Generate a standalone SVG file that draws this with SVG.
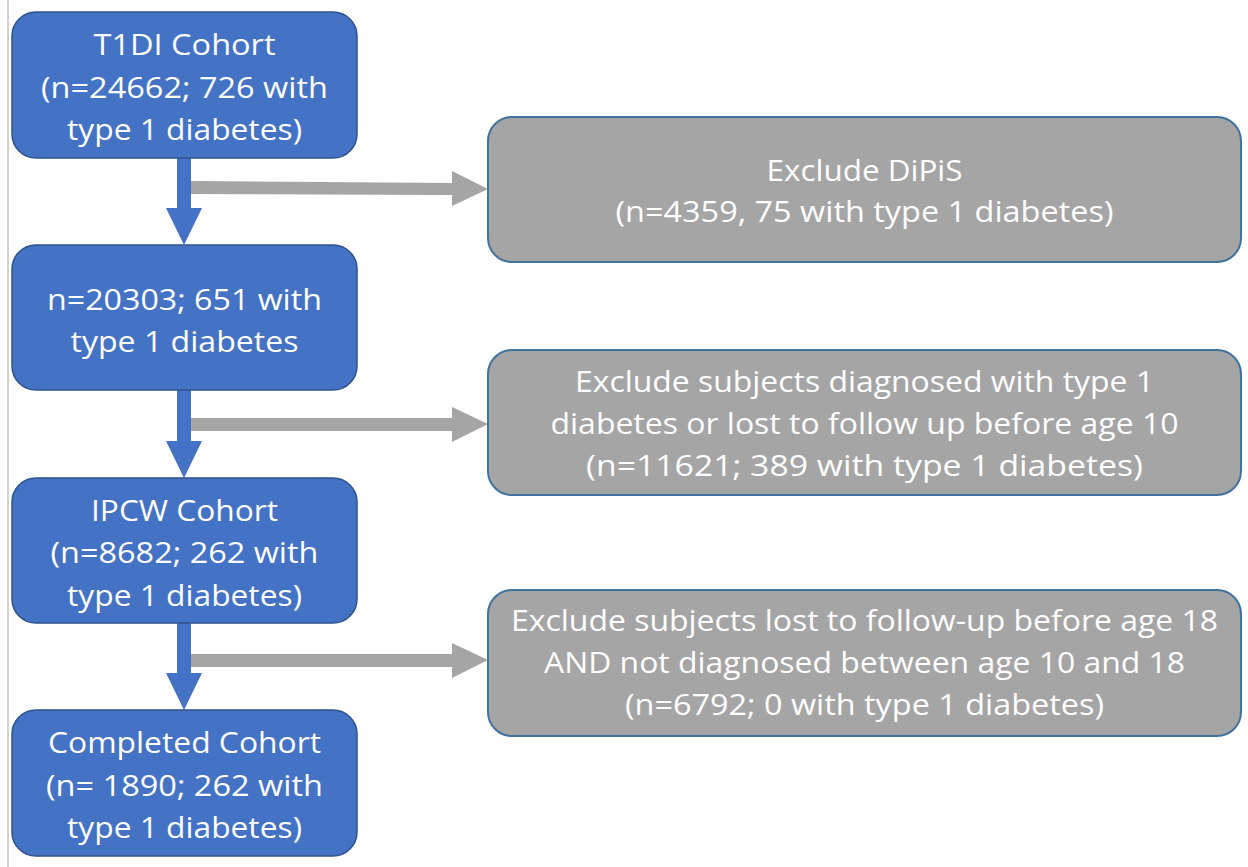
<svg xmlns="http://www.w3.org/2000/svg" width="1248" height="867" viewBox="0 0 1248 867">
<style>
.blue{fill:#4472C4;stroke:#2F528F;stroke-width:1.5}
.gray{fill:#A5A5A5;stroke:#41719C;stroke-width:2}
.t{font-family:"Open Sans","Liberation Sans",sans-serif;font-size:30px;fill:#FFFFFF;text-anchor:middle}
.ba{fill:#4472C4}
.ga{fill:#A5A5A5}
</style>
<rect width="1248" height="867" fill="#FFFFFF"/>
<line x1="8" y1="0" x2="8" y2="867" stroke="#D0D0D0" stroke-width="2"/>
<g id="connectors">
<polygon class="ga" points="191,181 452,183 452,171 488,189 452,206 452,195 191,194"/>
<polygon class="ga" points="191,418 452,418 452,407 488,424 452,442 452,431 191,431"/>
<polygon class="ga" points="191,654 452,654 452,643 488,660 452,678 452,667 191,667"/>
<polygon class="ba" points="177,158 191,158 191,208 202,208 184,245 166,208 177,208"/>
<polygon class="ba" points="177,390 191,390 191,441 202,441 184,478 166,441 177,441"/>
<polygon class="ba" points="177,623 191,623 191,673 202,673 184,710 166,673 177,673"/>
</g>
<g id="t1di">
<rect class="blue" x="12" y="12" width="345" height="146" rx="24"/>
<text class="t" x="184.5" y="55" textLength="182" lengthAdjust="spacingAndGlyphs">T1DI Cohort</text>
<text class="t" x="184.5" y="98" textLength="287" lengthAdjust="spacingAndGlyphs">(n=24662; 726 with</text>
<text class="t" x="184.5" y="140" textLength="235" lengthAdjust="spacingAndGlyphs">type 1 diabetes)</text>
</g>
<g id="n20303">
<rect class="blue" x="12" y="245" width="345" height="145" rx="24"/>
<text class="t" x="184.5" y="310" textLength="275" lengthAdjust="spacingAndGlyphs">n=20303; 651 with</text>
<text class="t" x="184.5" y="352" textLength="228" lengthAdjust="spacingAndGlyphs">type 1 diabetes</text>
</g>
<g id="ipcw">
<rect class="blue" x="12" y="478" width="345" height="145" rx="24"/>
<text class="t" x="184.5" y="521" textLength="187" lengthAdjust="spacingAndGlyphs">IPCW Cohort</text>
<text class="t" x="184.5" y="563" textLength="268" lengthAdjust="spacingAndGlyphs">(n=8682; 262 with</text>
<text class="t" x="184.5" y="606" textLength="235" lengthAdjust="spacingAndGlyphs">type 1 diabetes)</text>
</g>
<g id="completed">
<rect class="blue" x="12" y="710" width="345" height="146" rx="24"/>
<text class="t" x="184.5" y="753" textLength="273" lengthAdjust="spacingAndGlyphs">Completed Cohort</text>
<text class="t" x="184.5" y="796" textLength="277" lengthAdjust="spacingAndGlyphs">(n= 1890; 262 with</text>
<text class="t" x="184.5" y="838" textLength="235" lengthAdjust="spacingAndGlyphs">type 1 diabetes)</text>
</g>
<g id="dipis">
<rect class="gray" x="488" y="117" width="753" height="145" rx="24"/>
<text class="t" x="864.5" y="181" textLength="196" lengthAdjust="spacingAndGlyphs">Exclude DiPiS</text>
<text class="t" x="864.5" y="222" textLength="498" lengthAdjust="spacingAndGlyphs">(n=4359, 75 with type 1 diabetes)</text>
</g>
<g id="exclude10">
<rect class="gray" x="488" y="350" width="753" height="145" rx="24"/>
<text class="t" x="864.5" y="392" textLength="579" lengthAdjust="spacingAndGlyphs">Exclude subjects diagnosed with type 1</text>
<text class="t" x="864.5" y="434" textLength="628" lengthAdjust="spacingAndGlyphs">diabetes or lost to follow up before age 10</text>
<text class="t" x="864.5" y="476" textLength="557" lengthAdjust="spacingAndGlyphs">(n=11621; 389 with type 1 diabetes)</text>
</g>
<g id="exclude18">
<rect class="gray" x="488" y="590" width="753" height="146" rx="24"/>
<text class="t" x="864.5" y="631" textLength="707" lengthAdjust="spacingAndGlyphs">Exclude subjects lost to follow-up before age 18</text>
<text class="t" x="864.5" y="673" textLength="641" lengthAdjust="spacingAndGlyphs">AND not diagnosed between age 10 and 18</text>
<text class="t" x="864.5" y="715" textLength="479" lengthAdjust="spacingAndGlyphs">(n=6792; 0 with type 1 diabetes)</text>
</g>
</svg>
